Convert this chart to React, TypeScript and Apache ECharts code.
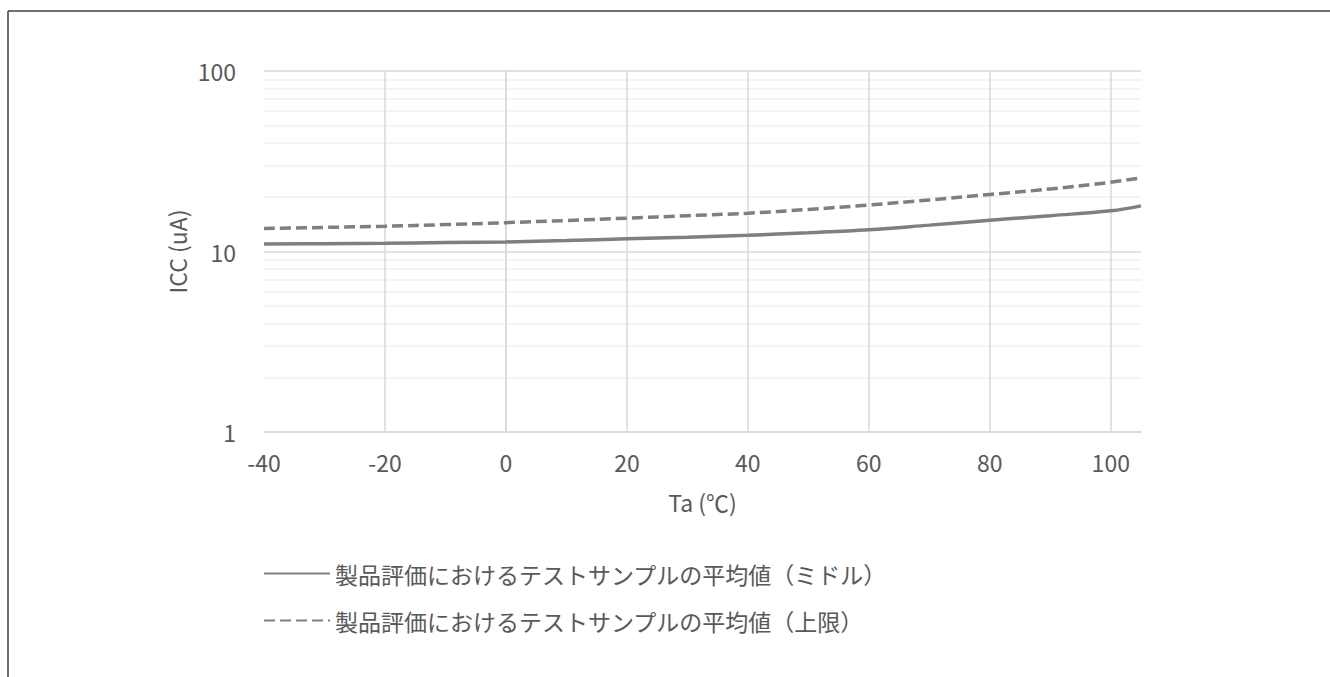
import React, { useEffect, useRef } from "react";
import * as echarts from "echarts";

const temps = [-40, -30, -20, -10, 0, 10, 20, 30, 40, 50, 60, 70, 80, 90, 100, 105];
const middleValues = [11.0, 11.05, 11.1, 11.2, 11.3, 11.5, 11.75, 12.0, 12.3, 12.7, 13.2, 14.0, 14.9, 15.8, 16.8, 17.9];
const upperValues = [13.4, 13.6, 13.8, 14.1, 14.45, 14.85, 15.3, 15.8, 16.3, 17.1, 18.1, 19.3, 20.7, 22.2, 24.2, 25.6];
const seriesNames = [
  "製品評価におけるテストサンプルの平均値（ミドル）",
  "製品評価におけるテストサンプルの平均値（上限）",
];
const xGridValues = [-20, 0, 20, 40, 60, 80, 100];
const yMinorGridValues = [2, 3, 4, 5, 6, 7, 8, 9, 20, 30, 40, 50, 60, 70, 80, 90];

const FONT = "'Noto Sans CJK JP', 'Noto Sans', sans-serif";
const TEXT = "#595959";
const LINE = "#7f7f7f";

export default function App() {
  const ref = useRef<HTMLDivElement>(null);
  useEffect(() => {
    if (!ref.current) return;
    const chart = echarts.init(ref.current, undefined, { renderer: "svg" });
    const mk = (vals: number[]) => vals.map((v, i) => [temps[i], v]);
    chart.setOption({
      animation: false,
      textStyle: { fontFamily: FONT },
      grid: { left: 264, right: 189, top: 71, bottom: 245 },
      graphic: [
        { type: "line", shape: { x1: 8, y1: 11, x2: 1330, y2: 11 }, style: { stroke: "#404040", lineWidth: 1.5 } },
        { type: "line", shape: { x1: 8, y1: 11, x2: 8, y2: 677 }, style: { stroke: "#404040", lineWidth: 1.5 } },
      ],
      legend: {
        orient: "vertical",
        left: 258,
        top: 557,
        itemWidth: 66,
        itemHeight: 14,
        itemGap: 24,
        itemStyle: { opacity: 0 },
        textStyle: { fontSize: 23, color: TEXT, fontFamily: FONT },
        data: seriesNames,
      },
      xAxis: {
        type: "value",
        min: -40,
        max: 105,
        interval: 20,
        name: "Ta (℃)",
        nameLocation: "middle",
        nameGap: 58,
        nameMoveOverlap: false,
        nameTextStyle: { fontSize: 23, color: TEXT, fontFamily: FONT },
        axisLine: { show: true, lineStyle: { color: "#d9d9d9", width: 1.5 } },
        axisTick: { show: false },
        splitLine: { show: false },
        axisLabel: {
          fontSize: 23,
          color: TEXT,
          margin: 18,
          showMaxLabel: false,
          formatter: (v: number) => (v % 20 === 0 ? String(v) : ""),
        },
      },
      yAxis: {
        type: "log",
        min: 1,
        max: 100,
        logBase: 10,
        name: "ICC (uA)",
        nameLocation: "middle",
        nameGap: 76,
        nameMoveOverlap: false,
        nameTextStyle: { fontSize: 23, color: TEXT, fontFamily: FONT },
        axisLine: { show: true, lineStyle: { color: "#d9d9d9", width: 1.5 } },
        axisTick: { show: false },
        splitLine: { show: true, lineStyle: { color: "#d9d9d9", width: 1.5 } },
        axisLabel: { fontSize: 23, color: TEXT, margin: 28 },
      },
      series: [
        {
          type: "line",
          name: seriesNames[0],
          data: mk(middleValues),
          smooth: 0.4,
          symbol: "none",
          lineStyle: { color: LINE, width: 3.5 },
          itemStyle: { color: LINE },
          z: 5,
          markLine: {
            silent: true,
            symbol: "none",
            label: { show: false },
            animation: false,
            data: [
              ...yMinorGridValues.map((v) => ({ yAxis: v, lineStyle: { color: "#f0f0f0", width: 1.5, type: "solid" } })),
              ...xGridValues.map((v) => ({ xAxis: v, lineStyle: { color: "#d9d9d9", width: 1.5, type: "solid" } })),
            ],
          },
        },
        {
          type: "line",
          name: seriesNames[1],
          data: mk(upperValues),
          smooth: 0.4,
          symbol: "none",
          lineStyle: { color: LINE, width: 3.5, type: [11, 5] },
          itemStyle: { color: LINE },
          z: 5,
        },
      ],
    });
    return () => chart.dispose();
  }, []);
  return (
    <div
      ref={ref}
      style={{ position: "absolute", left: 0, top: 0, width: 1330, height: 677, background: "#fff" }}
    />
  );
}
